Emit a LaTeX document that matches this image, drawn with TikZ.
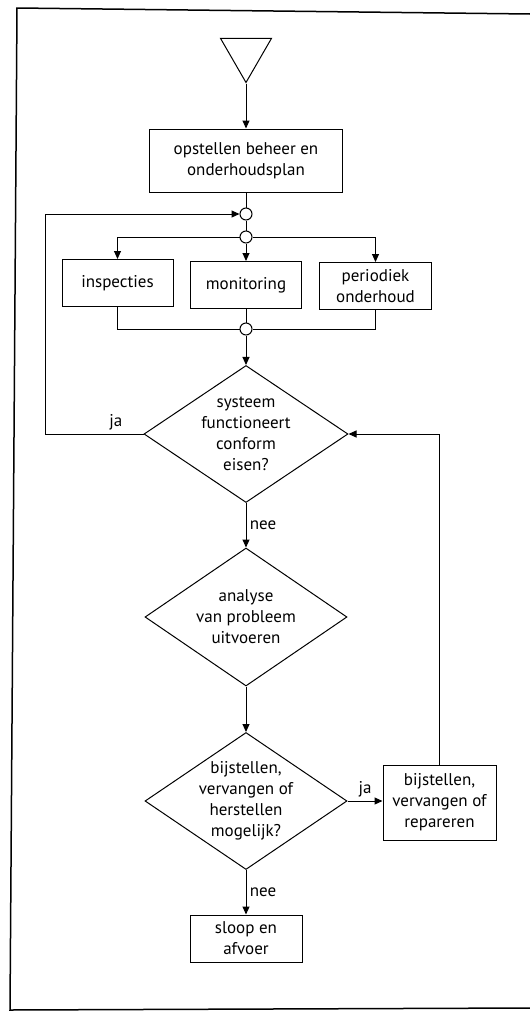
\documentclass[tikz,border=0pt]{standalone}
\usepackage{fontspec}
\setmainfont{PT Sans}
\usetikzlibrary{arrows.meta,positioning,shapes}
\tikzset{
  box/.style={draw, align=center, fill=white, line width=1pt, inner sep=2pt},
  dec/.style={draw, diamond, inner sep=0pt, line width=1pt, fill=white},
  junc/.style={draw, circle, minimum size=12pt, inner sep=0pt, line width=1pt, fill=white},
  arrow/.style={-{Triangle[length=8pt,width=7pt]}, line width=1pt},
  line/.style={line width=1pt},
}

\begin{document}
\begin{tikzpicture}[x=1pt, y=-1pt, font=\fontsize{17}{21}\selectfont]
  \useasboundingbox (0,0) rectangle (530,1012);
  % frame
  \draw[line width=1.5pt] (530,14) -- (17,8) -- (10,1010) -- (530,1008);

  % Nodes
  \node[draw, regular polygon, regular polygon sides=3, shape border rotate=180,
        minimum size=59pt, inner sep=0pt, line width=1pt] (start) at (246,53) {};
  \node[box, minimum width=193pt, minimum height=63pt] (plan) at (246,160.5) {opstellen beheer en\\onderhoudsplan};
  \node[junc] (j1) at (246,214) {};
  \node[junc] (j2) at (246,237) {};
  \node[box, minimum width=111pt, minimum height=47pt] (insp) at (117.5,283) {inspecties};
  \node[box, minimum width=111pt, minimum height=47pt] (mon) at (246,285) {monitoring};
  \node[box, minimum width=112pt, minimum height=47pt] (per) at (375.5,286) {periodiek\\onderhoud};
  \node[junc] (j3) at (246,329) {};
  \node[dec, minimum width=204pt, minimum height=137pt,
        label={[align=center]center:systeem\\functioneert\\conform\\eisen?}] (check) at (246,434) {};
  \node[dec, minimum width=202pt, minimum height=138pt,
        label={[align=center]center:analyse\\van probleem\\uitvoeren}] (analyse) at (246,617) {};
  \node[dec, minimum width=202pt, minimum height=137pt,
        label={[align=center]center:bijstellen,\\vervangen of\\herstellen\\mogelijk?}] (possible) at (246,801) {};
  \node[box, minimum width=113pt, minimum height=75pt] (fix) at (439.5,802.5) {bijstellen,\\vervangen of\\repareren};
  \node[box, minimum width=112pt, minimum height=47pt] (sloop) at (246,938.5) {sloop en\\afvoer};
  \coordinate (loopx) at (45,0);

  % Arrows
  \draw[arrow] (start.corner 1) -- (plan);
  \draw[line] (plan) -- (j1);
  \draw[line] (j1) -- (j2);
  \draw[arrow] (j2) -| (insp);
  \draw[arrow] (j2) -- (mon);
  \draw[arrow] (j2) -| (per);
  \draw[line] (insp) |- (j3);
  \draw[line] (mon) -- (j3);
  \draw[line] (per) |- (j3);
  \draw[arrow] (j3) -- (check);
  \draw[arrow] (check.west) -- node[above, pos=0.28] {ja} (check.west -| loopx) |- (j1);
  \draw[arrow] (check) -- node[right] {nee} (analyse);
  \draw[arrow] (analyse) -- (possible);
  \draw[arrow] (possible.east) -- node[above] {ja} (fix.west |- possible.east);
  \draw[arrow] (possible) -- node[right] {nee} (sloop);
  \draw[arrow] (fix.north) |- (check.east);
\end{tikzpicture}
\end{document}
